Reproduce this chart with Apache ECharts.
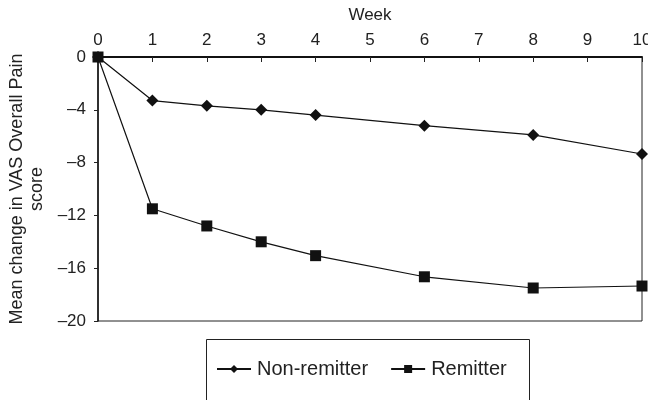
<!DOCTYPE html>
<html>
<head>
<meta charset="utf-8">
<script src="https://cdn.jsdelivr.net/npm/echarts@6/dist/echarts.min.js"></script>
<style>
  html, body { margin: 0; padding: 0; background: #fff; }
  #chart { width: 648px; height: 400px; }
</style>
</head>
<body>
<div id="chart"></div>
<script>
const weeks = [0, 1, 2, 3, 4, 6, 8, 10]
const nonRemitter = [0, -3.3, -3.7, -4.0, -4.4, -5.2, -5.9, -7.35]
const remitter = [0, -11.5, -12.8, -14.0, -15.05, -16.65, -17.5, -17.35]

const pairs = (xs, ys) => xs.map((x, i) => [x, ys[i]])

const myChart = echarts.init(document.getElementById('chart'))
const font = 'Liberation Sans, Arial, sans-serif'

myChart.setOption({
  animation: false,
  backgroundColor: '#fff',
  textStyle: { fontFamily: font },
  grid: {
    left: 98, right: 6, top: 57, bottom: 79,
    containLabel: false,
    outerBoundsMode: 'none',
    show: true, borderColor: '#222', borderWidth: 1
  },
  // legend frame, runs off the bottom edge like the original
  graphic: [{
    type: 'rect',
    left: 204, top: 337,
    shape: { width: 323, height: 80 },
    style: { fill: 'none', stroke: '#222', lineWidth: 1 }
  }],
  xAxis: {
    type: 'value',
    position: 'top',
    min: 0, max: 10, interval: 1,
    name: 'Week',
    nameLocation: 'middle',
    nameGap: 33,
    nameTextStyle: { fontSize: 17, color: '#222', fontFamily: font },
    axisLine: { lineStyle: { color: '#111', width: 2 } },
    axisTick: { inside: true, length: 5, lineStyle: { color: '#222' } },
    axisLabel: { fontSize: 17, color: '#222', margin: 8, fontFamily: font },
    splitLine: { show: false }
  },
  yAxis: {
    type: 'value',
    min: -20, max: 0, interval: 4,
    name: 'Mean change in VAS Overall Pain\nscore',
    nameLocation: 'middle',
    nameGap: 47,
    nameTextStyle: { fontSize: 18, color: '#222', fontFamily: font, lineHeight: 20 },
    axisLine: { show: true, onZero: false, lineStyle: { color: '#111', width: 1.5 } },
    axisTick: { show: true, length: 4, lineStyle: { color: '#222' } },
    axisLabel: {
      fontSize: 17, color: '#222', margin: 12, fontFamily: font,
      formatter: v => String(v).replace('-', '–')
    },
    splitLine: { show: false }
  },
  legend: {
    left: 211, top: 354,
    padding: 5,
    itemWidth: 34, itemHeight: 10, itemGap: 22,
    textStyle: { fontSize: 20, color: '#222', fontFamily: font, padding: [0, 0, 0, 1] },
    data: ['Non-remitter', 'Remitter']
  },
  series: [
    {
      name: 'Non-remitter',
      type: 'line',
      data: pairs(weeks, nonRemitter),
      symbol: 'diamond',
      symbolSize: 12,
      lineStyle: { color: '#111', width: 1.2 },
      itemStyle: { color: '#111' }
    },
    {
      name: 'Remitter',
      type: 'line',
      data: pairs(weeks, remitter),
      symbol: 'rect',
      symbolSize: 11,
      lineStyle: { color: '#111', width: 1.2 },
      itemStyle: { color: '#111' }
    }
  ]
})
</script>
</body>
</html>
